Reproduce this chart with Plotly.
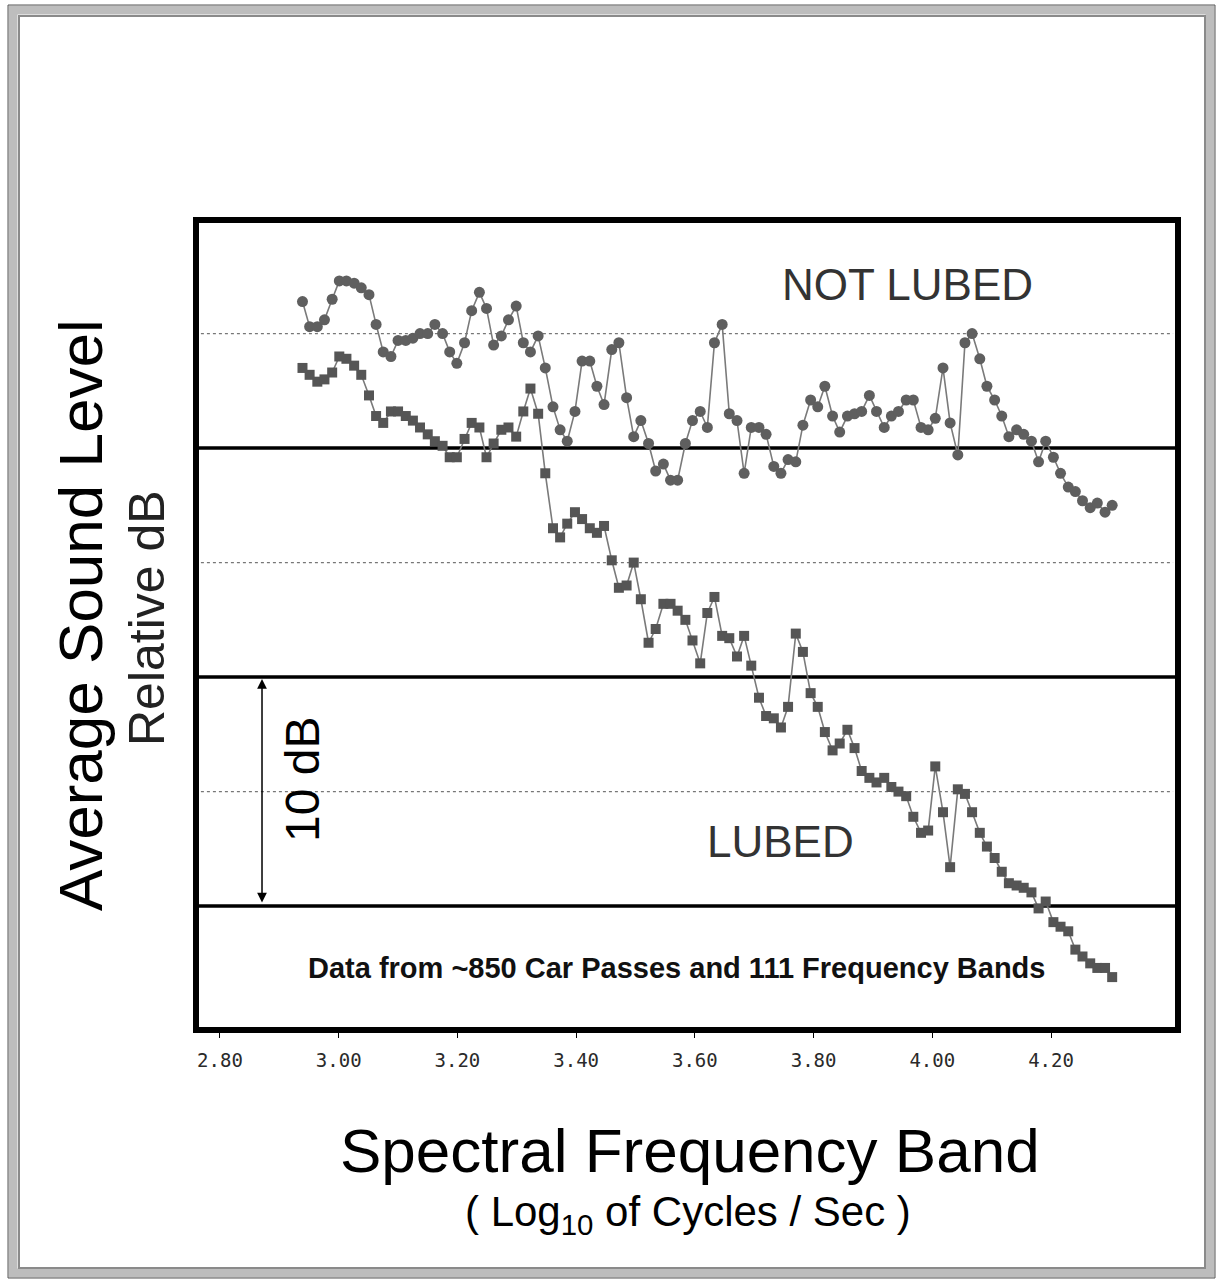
import plotly.graph_objects as go

# ---------------- data ----------------
bands = [2.939, 2.951, 2.964, 2.976, 2.989, 3.001, 3.013, 3.026, 3.038, 3.051,
         3.063, 3.075, 3.088, 3.100, 3.113, 3.125, 3.137, 3.150, 3.162, 3.175,
         3.187, 3.199, 3.212, 3.224, 3.237, 3.249, 3.261, 3.274, 3.286, 3.299,
         3.311, 3.323, 3.336, 3.348, 3.361, 3.373, 3.385, 3.398, 3.410, 3.423,
         3.435, 3.447, 3.460, 3.472, 3.485, 3.497, 3.509, 3.522, 3.534, 3.547,
         3.559, 3.571, 3.584, 3.596, 3.609, 3.621, 3.633, 3.646, 3.658, 3.671,
         3.683, 3.695, 3.708, 3.720, 3.733, 3.745, 3.757, 3.770, 3.782, 3.795,
         3.807, 3.819, 3.832, 3.844, 3.857, 3.869, 3.881, 3.894, 3.906, 3.919,
         3.931, 3.943, 3.956, 3.968, 3.981, 3.993, 4.005, 4.018, 4.030, 4.043,
         4.055, 4.067, 4.080, 4.092, 4.105, 4.117, 4.129, 4.142, 4.154, 4.167,
         4.179, 4.191, 4.204, 4.216, 4.229, 4.241, 4.253, 4.266, 4.278, 4.291,
         4.303]

not_lubed = [26.4, 25.3, 25.3, 25.6, 26.5, 27.3, 27.3, 27.2, 27.0, 26.7,
             25.4, 24.2, 24.0, 24.7, 24.7, 24.8, 25.0, 25.0, 25.4, 25.0,
             24.2, 23.7, 24.6, 26.0, 26.8, 26.1, 24.5, 24.9, 25.6, 26.2,
             24.6, 24.2, 24.9, 23.5, 21.8, 20.8, 20.3, 21.6, 23.8, 23.8,
             22.7, 21.9, 24.3, 24.6, 22.2, 20.5, 21.2, 20.2, 19.0, 19.3,
             18.6, 18.6, 20.2, 21.2, 21.6, 20.9, 24.6, 25.4, 21.5, 21.2,
             18.9, 20.9, 20.9, 20.6, 19.2, 18.9, 19.5, 19.4, 21.0, 22.1,
             21.8, 22.7, 21.4, 20.7, 21.4, 21.5, 21.6, 22.3, 21.6, 20.9,
             21.4, 21.6, 22.1, 22.1, 20.9, 20.8, 21.3, 23.5, 21.1, 19.7,
             24.6, 25.0, 23.9, 22.7, 22.1, 21.4, 20.5, 20.8, 20.6, 20.3,
             19.4, 20.3, 19.6, 18.9, 18.3, 18.1, 17.7, 17.4, 17.6, 17.2,
             17.5]

lubed = [23.5, 23.2, 22.9, 23.0, 23.3, 24.0, 23.9, 23.6, 23.2, 22.3,
         21.4, 21.1, 21.6, 21.6, 21.4, 21.2, 20.9, 20.6, 20.3, 20.1,
         19.6, 19.6, 20.4, 21.1, 20.9, 19.6, 20.2, 20.8, 20.9, 20.5,
         21.6, 22.6, 21.5, 18.9, 16.5, 16.1, 16.7, 17.2, 16.9, 16.5,
         16.3, 16.6, 15.1, 13.9, 14.0, 15.0, 13.4, 11.5, 12.1, 13.2,
         13.2, 12.9, 12.5, 11.6, 10.6, 12.8, 13.5, 11.8, 11.7, 10.9,
         11.8, 10.5, 9.1, 8.3, 8.2, 7.8, 8.7, 11.9, 11.1, 9.3,
         8.7, 7.6, 6.8, 7.1, 7.7, 6.9, 5.9, 5.6, 5.4, 5.6,
         5.2, 5.0, 4.8, 3.9, 3.2, 3.3, 6.1, 4.1, 1.7, 5.1,
         4.9, 4.1, 3.2, 2.6, 2.1, 1.5, 1.0, 0.9, 0.8, 0.6,
         -0.1, 0.2, -0.7, -0.9, -1.1, -1.9, -2.2, -2.5, -2.7, -2.7,
         -3.1]

x_ticks = [2.80, 3.00, 3.20, 3.40, 3.60, 3.80, 4.00, 4.20]
x_tick_labels = ["2.80", "3.00", "3.20", "3.40", "3.60", "3.80", "4.00", "4.20"]
solid_levels = [0, 10, 20]
dotted_levels = [5, 15, 25]

# ---------------- layout helpers ----------------
W, H = 1218, 1281
L, R, T, B = 196, 1178, 220, 1030  # plot area in pixels


def px(x):
    return (x - L) / (R - L)


def py(y):
    return (B - y) / (B - T)


fig = go.Figure()

shapes = []
for lv in dotted_levels:
    shapes.append(dict(type="line", xref="paper", yref="y", x0=0.005, x1=0.995, y0=lv, y1=lv,
                       line=dict(color="#777777", width=1.2, dash="dot"), layer="below"))
for lv in solid_levels:
    shapes.append(dict(type="line", xref="paper", yref="y", x0=0, x1=1, y0=lv, y1=lv,
                       line=dict(color="black", width=3.5), layer="below"))
shapes.append(dict(type="rect", xref="paper", yref="paper", x0=0, x1=1, y0=0, y1=1,
                   line=dict(color="black", width=6), layer="above"))
# outer window frame
shapes.append(dict(type="rect", xref="paper", yref="paper",
                   x0=px(13), x1=px(1210), y0=py(1273), y1=py(10),
                   line=dict(color="#bdbdbd", width=9), layer="above"))
shapes.append(dict(type="rect", xref="paper", yref="paper",
                   x0=px(19), x1=px(1205), y0=py(1268), y1=py(16),
                   line=dict(color="#8a8a8a", width=2), layer="above"))
shapes.append(dict(type="rect", xref="paper", yref="paper",
                   x0=px(8), x1=px(1215), y0=py(1278), y1=py(5),
                   line=dict(color="#555555", width=1), layer="above"))

fig.add_trace(go.Scatter(
    x=bands, y=not_lubed, mode="lines+markers", name="NOT LUBED",
    line=dict(color="#7a7a7a", width=1.6),
    marker=dict(symbol="circle", size=11, color="#5f5f5f"),
))
fig.add_trace(go.Scatter(
    x=bands, y=lubed, mode="lines+markers", name="LUBED",
    line=dict(color="#7a7a7a", width=1.6),
    marker=dict(symbol="square", size=10, color="#555555"),
))

font_main = "Liberation Sans, Arial, sans-serif"


def label(text, x, y, size, color="black", angle=0):
    return dict(text=text, x=px(x), y=py(y), xref="paper", yref="paper",
                xanchor="center", yanchor="middle", textangle=angle, showarrow=False,
                font=dict(family=font_main, size=size, color=color))


annotations = [
    label("NOT LUBED", 907, 284, 44, "#333333"),
    label("LUBED", 780, 841, 44, "#333333"),
    label("<b>Data from ~850 Car Passes and 111 Frequency Bands</b>", 676, 968, 29, "#111111"),
    label("Spectral Frequency Band", 690, 1150, 62),
    label("( Log<sub>10</sub> of Cycles / Sec )", 688, 1214, 42),
    label("Average Sound Level", 80, 615, 62, angle=-90),
    label("Relative dB", 147, 618, 50, "#222222", angle=-90),
    label("10 dB", 302, 780, 48, angle=-90),
    dict(x=2.8708, y=solid_levels[1], ax=2.8708, ay=solid_levels[0], xref="x", yref="y",
         axref="x", ayref="y", text="", showarrow=True, arrowhead=2, arrowside="end+start",
         arrowsize=1.3, arrowwidth=1.5, arrowcolor="black", standoff=2, startstandoff=2),
]

fig.update_layout(
    width=W, height=H,
    margin=dict(l=L, r=W - R, t=T, b=H - B, pad=0),
    paper_bgcolor="white", plot_bgcolor="white",
    showlegend=False,
    shapes=shapes,
    annotations=annotations,
    xaxis=dict(range=[2.7596, 4.4139], tickvals=x_ticks, ticktext=x_tick_labels,
               showgrid=False, zeroline=False, showline=False,
               ticks="outside", ticklen=7, tickwidth=1, tickcolor="black",
               ticklabelstandoff=6,
               tickfont=dict(family="DejaVu Sans Mono, monospace", size=19, color="#2a2a2a")),
    yaxis=dict(range=[-5.41, 29.96], showticklabels=False, showgrid=False, zeroline=False,
               showline=False, ticks=""),
)

fig.write_html("out.html")
